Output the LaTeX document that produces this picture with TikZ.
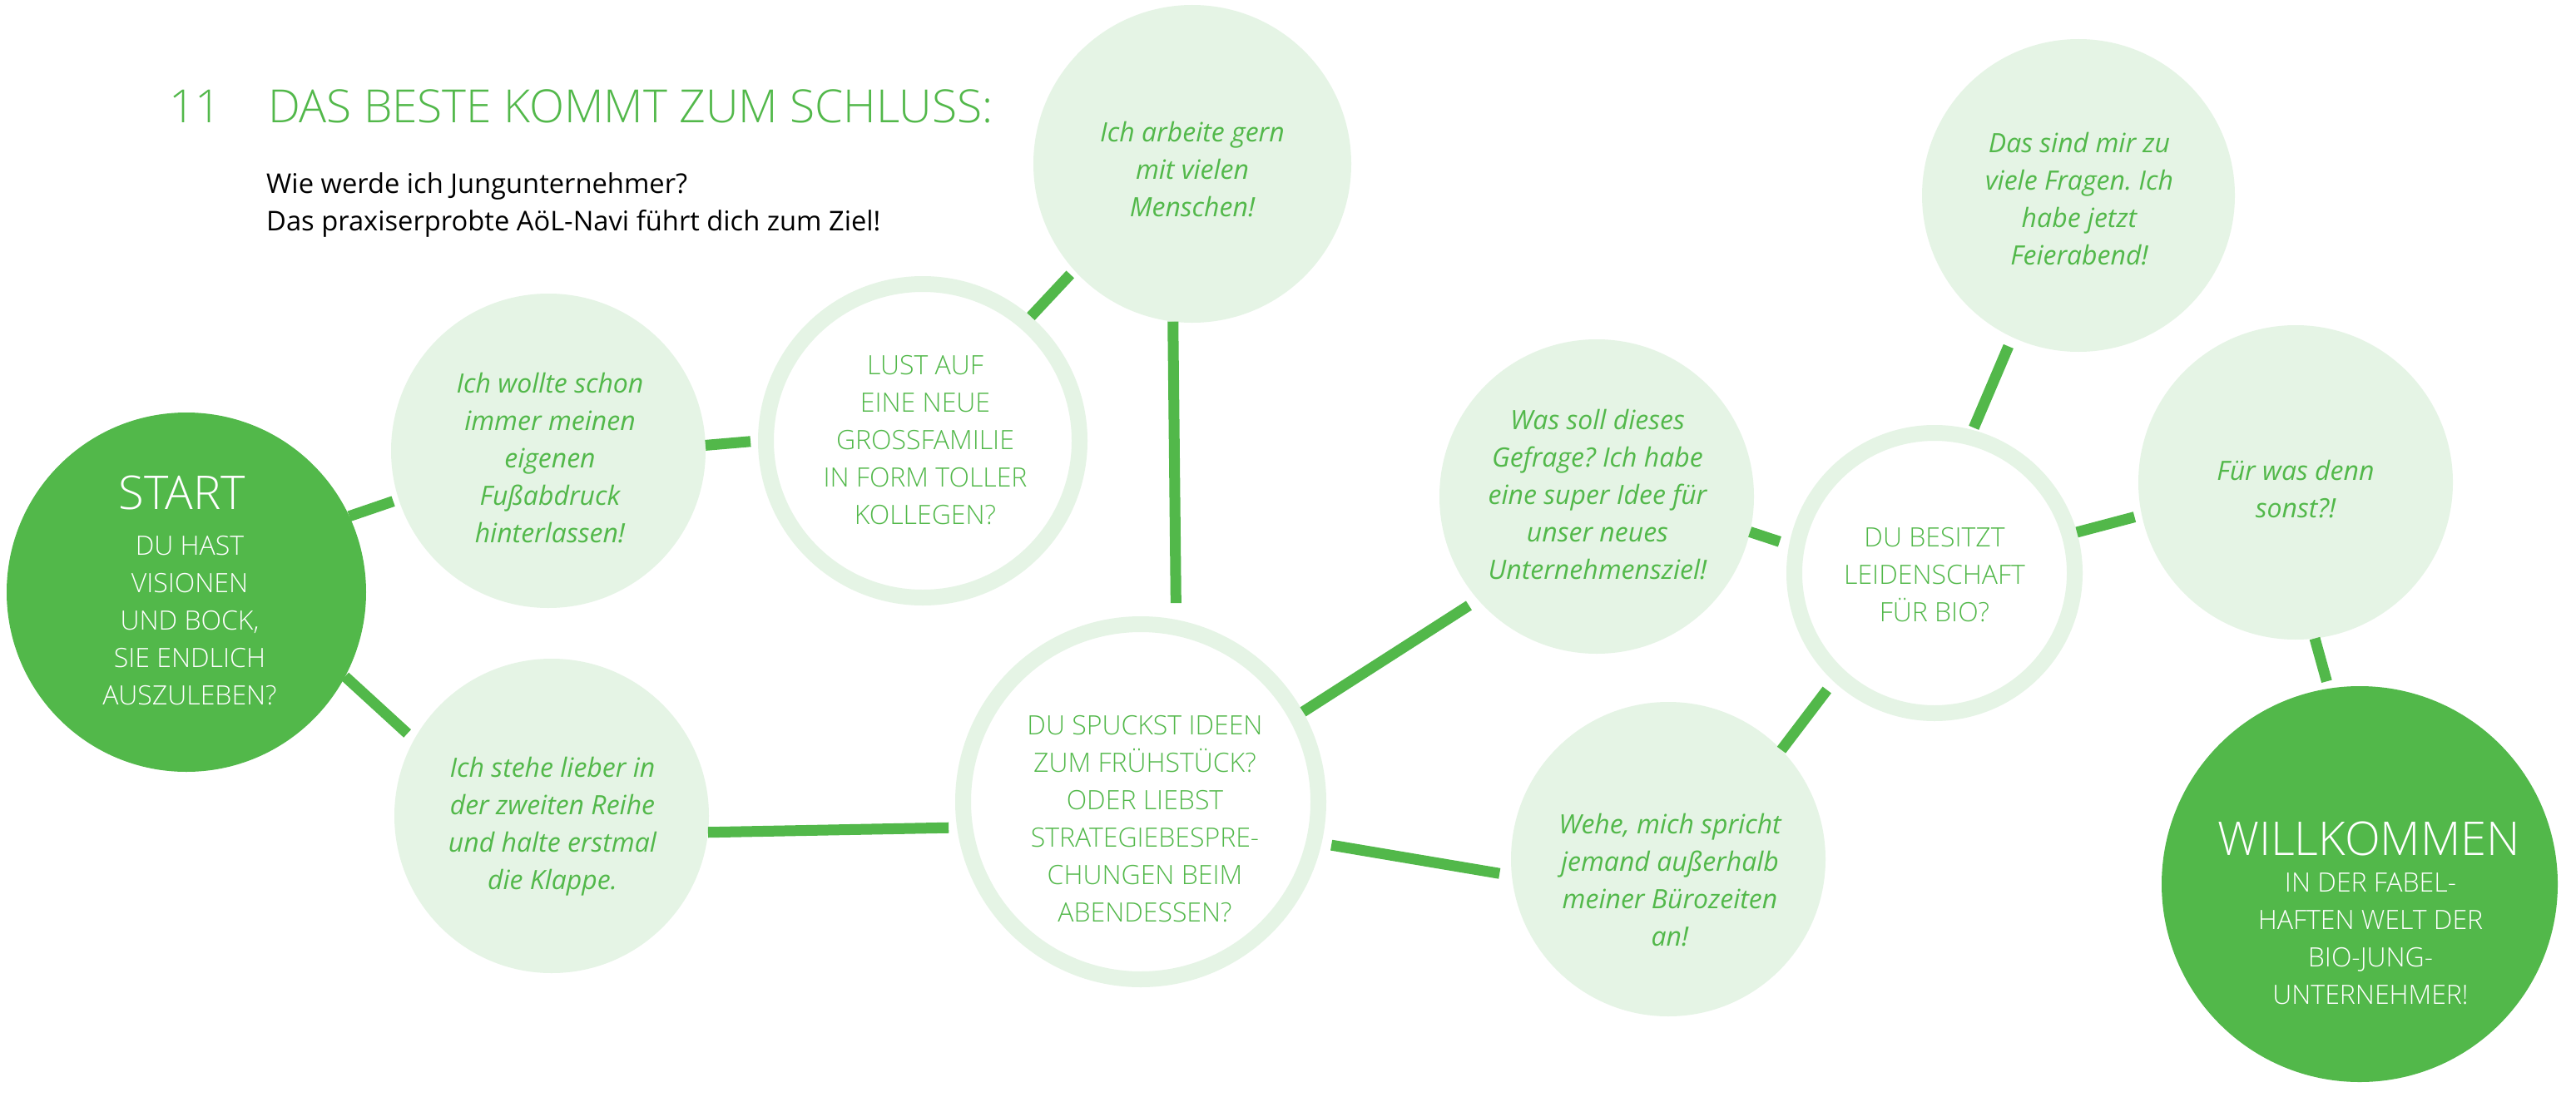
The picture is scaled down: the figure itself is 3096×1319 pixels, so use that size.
\documentclass[tikz,border=0pt]{standalone}
\usepackage{fontspec}
\setmainfont{Open Sans}
\IfFontExistsTF{Open Sans Light}
  {\newfontfamily\lightfont{Open Sans Light}}
  {\newfontfamily\lightfont{Open Sans}}
\definecolor{leaf}{HTML}{52B84A}
\definecolor{mint}{HTML}{E5F4E5}
\frenchspacing

\begin{document}
\begin{tikzpicture}[x=1pt,y=-1pt,
  bubble/.style={circle, fill=mint, inner sep=0pt, outer sep=0pt, minimum size=#1},
  ring/.style={circle, draw=mint, line width=19pt, inner sep=0pt, outer sep=9.5pt, minimum size=#1},
  hub/.style={circle, fill=leaf, inner sep=0pt, outer sep=0pt, minimum size=#1},
  link/.style={draw=leaf, line width=13pt},
  % multi-line texts are placed by the baseline of their last line
  say/.style={font=\fontsize{32}{45}\selectfont\itshape, text=leaf, align=center, anchor=base, inner sep=0pt},
  ask/.style={font=\lightfont\fontsize{32}{45}\selectfont, text=leaf, align=center, anchor=base, inner sep=0pt},
  big/.style={font=\lightfont\fontsize{56}{60}\selectfont, inner sep=0pt}
]
\useasboundingbox[fill=white] (0,0) rectangle (3096,1319);

% heading
\node[big, anchor=base west, text=leaf, font=\lightfont\fontsize{55}{60}\selectfont] (num) at (203,147) {11};
\node[big, anchor=base west, text=leaf, font=\lightfont\fontsize{55}{60}\selectfont] (head) at (322,147) {DAS BESTE KOMMT ZUM SCHLUSS:};
\node[anchor=base west, align=left, inner sep=0pt, font=\fontsize{32.7}{45}\selectfont] (sub) at (320,277)
  {Wie werde ich Jungunternehmer?\\Das praxiserprobte AöL-Navi führt dich zum Ziel!};

% circles
\node[hub=432]    (S) at (224,712) {};
\node[bubble=378] (F) at (659,542) {};
\node[ring=377]   (L) at (1109,530) {};
\node[bubble=382] (A) at (1433,197) {};
\node[bubble=378] (T) at (663,981) {};
\node[ring=427]   (D) at (1371,964) {};
\node[bubble=378] (W) at (1919,597) {};
\node[bubble=378] (H) at (2005,1033) {};
\node[ring=337]   (B) at (2325,689) {};
\node[bubble=376] (Z) at (2498,235) {};
\node[bubble=378] (U) at (2759,580) {};
\node[hub=476]    (K) at (2836,1063) {};

% connectors
\draw[link, shorten >=7pt]  (S.25)  -- (F.198);
\draw[link, shorten >=11pt] (S.-28) -- (T.151);
\draw[link, shorten >=9pt]  (F.2)   -- (L.180);
\draw[link, shorten >=7pt]  (L.49)  -- (A.222);
\draw[link, shorten >=10pt] (T.-6)  -- (D.188);
\draw[link, shorten >=20pt] (A.263) -- (D.79);
\draw[link, shorten >=13pt] (D.29)  -- (W.221);
\draw[link, shorten <=12pt, shorten >=15pt] (D.-13) -- (H.186);
\draw[link, shorten >=12pt] (W.-13) -- (B.169);
\draw[link, shorten >=13pt] (H.44)  -- (B.227);
\draw[link, shorten <=3pt, shorten >=12pt] (B.75) -- (Z.245);
\draw[link, shorten >=9pt]  (B.16)  -- (U.192);
\draw[link, shorten >=9pt]  (U.277) -- (K.99);

% texts
\node[big, anchor=base, text=white] (startT) at (219,612) {START};
\node[ask, text=white] (startQ) at (228,847) {DU HAST\\VISIONEN\\UND BOCK,\\SIE ENDLICH\\AUSZULEBEN?};
\node[say] (footT) at (661,652) {Ich wollte schon\\immer meinen\\eigenen\\Fußabdruck\\hinterlassen!};
\node[ask] (lustT) at (1112,630) {LUST AUF\\EINE NEUE\\GROSSFAMILIE\\IN FORM TOLLER\\KOLLEGEN?};
\node[say] (arbT) at (1433,260) {Ich arbeite gern\\mit vielen\\Menschen!};
\node[say] (steT) at (664,1069) {Ich stehe lieber in\\der zweiten Reihe\\und halte erstmal\\die Klappe.};
\node[ask] (spuT) at (1376,1108) {DU SPUCKST IDEEN\\ZUM FRÜHSTÜCK?\\ODER LIEBST\\STRATEGIEBESPRE-\\CHUNGEN BEIM\\ABENDESSEN?};
\node[say] (wasT) at (1920,696) {Was soll dieses\\Gefrage? Ich habe\\eine super Idee für\\unser neues\\Unternehmensziel!};
\node[say] (weheT) at (2007,1137) {Wehe, mich spricht\\jemand außerhalb\\meiner Bürozeiten\\an!};
\node[ask] (besT) at (2325,747) {DU BESITZT\\LEIDENSCHAFT\\FÜR BIO?};
\node[say] (dasT) at (2499,318) {Das sind mir zu\\viele Fragen. Ich\\habe jetzt\\Feierabend!};
\node[say] (furT) at (2759,622) {Für was denn\\sonst?!};
\node[big, anchor=base, text=white] (willT) at (2847,1028) {WILLKOMMEN};
\node[ask, text=white] (willQ) at (2849,1207) {IN DER FABEL-\\HAFTEN WELT DER\\BIO-JUNG-\\UNTERNEHMER!};
\end{tikzpicture}
\end{document}
